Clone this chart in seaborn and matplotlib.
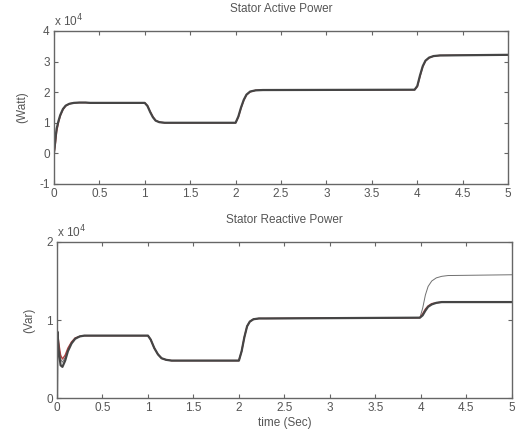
import numpy as np
import pandas as pd
import matplotlib
matplotlib.use("Agg")
import matplotlib.pyplot as plt
import seaborn as sns

# ---- data (values in units of 1e4) ----
t_p = [0, 0.01, 0.02, 0.03, 0.05, 0.07, 0.1, 0.13, 0.17, 0.22, 0.28, 0.35, 0.4,
       1.0, 1.03, 1.06, 1.09, 1.12, 1.16, 1.22,
       2.0, 2.03, 2.06, 2.09, 2.12, 2.16, 2.22, 2.3,
       3.97, 4.0, 4.03, 4.06, 4.09, 4.13, 4.18, 4.25, 5.0]
p_meas = [0.0, 0.25, 0.55, 0.8, 1.05, 1.25, 1.45, 1.56, 1.62, 1.65, 1.66, 1.66, 1.65,
          1.65, 1.55, 1.35, 1.18, 1.07, 1.02, 1.0,
          1.0, 1.2, 1.5, 1.75, 1.92, 2.02, 2.06, 2.07,
          2.08, 2.2, 2.55, 2.85, 3.03, 3.13, 3.18, 3.2, 3.22]
p_ref = [0.0, 0.15, 0.4, 0.7, 1.0, 1.22, 1.43, 1.55, 1.62, 1.65, 1.66, 1.66, 1.65,
         1.65, 1.56, 1.37, 1.2, 1.08, 1.02, 1.0,
         1.0, 1.18, 1.48, 1.73, 1.91, 2.01, 2.06, 2.07,
         2.08, 2.18, 2.52, 2.83, 3.02, 3.12, 3.18, 3.2, 3.22]

t_q = [0, 0.005, 0.02, 0.04, 0.06, 0.09, 0.12, 0.16, 0.2, 0.25, 0.3, 0.4,
       1.0, 1.03, 1.07, 1.11, 1.15, 1.2, 1.26,
       2.0, 2.03, 2.06, 2.09, 2.12, 2.16, 2.22, 2.3,
       3.99, 4.02, 4.05, 4.08, 4.12, 4.17, 4.23, 4.3, 5.0]
q_meas = [0.0, 0.85, 0.6, 0.42, 0.4, 0.48, 0.6, 0.7, 0.76, 0.79, 0.8, 0.8,
          0.8, 0.75, 0.64, 0.56, 0.51, 0.49, 0.48,
          0.48, 0.6, 0.78, 0.92, 0.98, 1.01, 1.02, 1.02,
          1.03, 1.06, 1.12, 1.17, 1.2, 1.22, 1.23, 1.23, 1.23]
q_ref = [0.0, 0.85, 0.7, 0.55, 0.5, 0.55, 0.64, 0.72, 0.77, 0.79, 0.8, 0.8,
         0.8, 0.75, 0.64, 0.56, 0.51, 0.49, 0.48,
         0.48, 0.6, 0.78, 0.92, 0.98, 1.01, 1.02, 1.02,
         1.03, 1.08, 1.14, 1.18, 1.21, 1.22, 1.23, 1.23, 1.23]
q_alt = [0.0, 0.85, 0.68, 0.5, 0.46, 0.52, 0.62, 0.71, 0.77, 0.79, 0.8, 0.8,
         0.8, 0.75, 0.64, 0.56, 0.51, 0.49, 0.48,
         0.48, 0.6, 0.78, 0.92, 0.98, 1.01, 1.02, 1.02,
         1.03, 1.15, 1.32, 1.43, 1.5, 1.54, 1.56, 1.57, 1.58]

x_ticks = [0, 0.5, 1, 1.5, 2, 2.5, 3, 3.5, 4, 4.5, 5]
x_ticklabels = ["0", "0.5", "1", "1.5", "2", "2.5", "3", "3.5", "4", "4.5", "5"]
yp_ticks = [-1, 0, 1, 2, 3, 4]
yq_ticks = [0, 1, 2]

# ---- frames ----
df_p = pd.concat([
    pd.DataFrame({"t": t_p, "v": p_ref, "s": "ref"}),
    pd.DataFrame({"t": t_p, "v": p_meas, "s": "meas"}),
], ignore_index=True)
df_q = pd.concat([
    pd.DataFrame({"t": t_q, "v": q_alt, "s": "alt"}),
    pd.DataFrame({"t": t_q, "v": q_ref, "s": "ref"}),
    pd.DataFrame({"t": t_q, "v": q_meas, "s": "meas"}),
], ignore_index=True)

sns.set_style("white")
plt.rcParams["font.family"] = ["Liberation Sans", "DejaVu Sans"]
txt = "#555555"
spine = "#666666"
fs = 8.5

fig = plt.figure(figsize=(5.18, 4.36), dpi=100)
ax1 = fig.add_axes([0.104, 0.578, 0.877, 0.351])
ax2 = fig.add_axes([0.110, 0.087, 0.878, 0.358])

pal = {"ref": "#b04040", "meas": "#454545", "alt": "#707070"}
sizes = {"ref": 1.0, "meas": 1.6, "alt": 0.7}

sns.lineplot(data=df_p, x="t", y="v", hue="s", size="s", palette=pal, sizes=sizes,
             estimator=None, sort=False, legend=False, ax=ax1)
sns.lineplot(data=df_q, x="t", y="v", hue="s", size="s", palette=pal, sizes=sizes,
             estimator=None, sort=False, legend=False, ax=ax2)

for ax, yt, ylim in [(ax1, yp_ticks, (-1, 4)), (ax2, yq_ticks, (0, 2))]:
    ax.set_xlim(0, 5)
    ax.set_ylim(*ylim)
    ax.set_xticks(x_ticks)
    ax.set_xticklabels(x_ticklabels)
    ax.set_yticks(yt)
    ax.set_yticklabels([str(v) for v in yt])
    ax.tick_params(direction="in", length=3, width=0.8, colors=spine,
                   labelcolor=txt, labelsize=fs, top=True, right=True,
                   bottom=True, left=True, pad=3)
    for sp in ax.spines.values():
        sp.set_visible(True)
        sp.set_color(spine)
        sp.set_linewidth(1.0)
    ax.set_xlabel("")
    ax.set_ylabel("")

ax1.set_title("Stator Active Power", fontsize=fs, color=txt, pad=14)
ax2.set_title("Stator Reactive Power", fontsize=fs, color=txt, pad=14)
ax1.set_ylabel("(Watt)", fontsize=fs, color=txt, labelpad=8)
ax2.set_ylabel("(Var)", fontsize=fs, color=txt, labelpad=8)
ax2.set_xlabel("time (Sec)", fontsize=fs, color=txt, labelpad=2)

ax1.text(0.0, 1.01, r"x 10$^4$", transform=ax1.transAxes, fontsize=fs,
         color=txt, ha="left", va="bottom")
ax2.text(0.0, 1.01, r"x 10$^4$", transform=ax2.transAxes, fontsize=fs,
         color=txt, ha="left", va="bottom")

fig.savefig("out.png", dpi=100, facecolor="white")
